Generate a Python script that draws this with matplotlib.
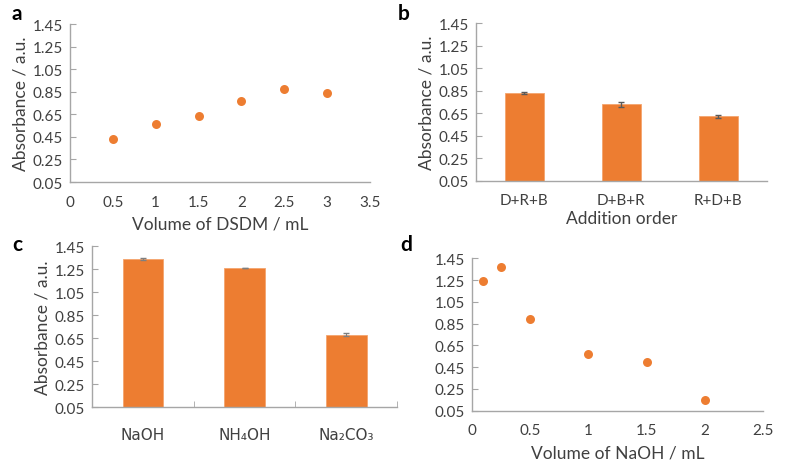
import matplotlib

matplotlib.use("Agg")
import matplotlib.pyplot as plt
import numpy as np

# panel a: absorbance vs DSDM volume
dsdm_ml = [0.5, 1.0, 1.5, 2.0, 2.5, 3.0]
dsdm_abs = [0.435, 0.568, 0.636, 0.772, 0.876, 0.843]

# panel b: addition order
order_labels = ["D+R+B", "D+B+R", "R+D+B"]
order_abs = [0.827, 0.729, 0.623]
order_err = [0.010, 0.020, 0.012]

# panel c: base type
base_labels = ["NaOH", "NH\u2084OH", "Na\u2082CO\u2083"]
base_abs = [1.340, 1.262, 0.682]
base_err = [0.010, 0.003, 0.010]

# panel d: absorbance vs NaOH volume
naoh_ml = [0.1, 0.25, 0.5, 1.0, 1.5, 2.0]
naoh_abs = [1.245, 1.373, 0.889, 0.571, 0.497, 0.151]

y_ticks = [0.05, 0.25, 0.45, 0.65, 0.85, 1.05, 1.25, 1.45]

ORANGE = "#ED7D31"
AXIS_GRAY = "#A6A6A6"
TEXT = "#404040"

plt.rcParams["font.family"] = ["Lato", "DejaVu Sans"]

fig = plt.figure(figsize=(7.89, 4.64), dpi=100)


def style_axes(ax, ylabel=True):
    for side in ("top", "right"):
        ax.spines[side].set_visible(False)
    for side in ("left", "bottom"):
        ax.spines[side].set_color(AXIS_GRAY)
        ax.spines[side].set_linewidth(1.0)
    ax.set_ylim(0.05, 1.45)
    ax.set_yticks(y_ticks)
    ax.set_yticklabels([f"{t:.2f}" for t in y_ticks])
    ax.tick_params(axis="y", direction="in", length=4, color=AXIS_GRAY,
                   labelsize=11, labelcolor=TEXT, pad=5)
    ax.tick_params(axis="x", length=0, labelsize=11, labelcolor=TEXT, pad=9)
    if ylabel:
        ax.set_ylabel("Absorbance / a.u.", fontsize=12.5, color=TEXT, labelpad=3)


# a
ax_a = fig.add_axes([0.0887, 0.6056, 0.3803, 0.3404])
style_axes(ax_a)
ax_a.scatter(dsdm_ml, dsdm_abs, s=42, color=ORANGE, zorder=3, linewidths=0)
ax_a.set_xlim(0, 3.5)
ax_a.set_xticks([0, 0.5, 1, 1.5, 2, 2.5, 3, 3.5])
ax_a.set_xticklabels(["0", "0.5", "1", "1.5", "2", "2.5", "3", "3.5"])
ax_a.set_xlabel("Volume of DSDM / mL", fontsize=12.5, color=TEXT, labelpad=5)

# b
ax_b = fig.add_axes([0.603, 0.608, 0.369, 0.340])
style_axes(ax_b)
xb = np.arange(len(order_labels))
ax_b.bar(xb, order_abs, width=0.4, color=ORANGE, edgecolor="#F4A46E", linewidth=0.6,
         bottom=0, zorder=2)
ax_b.errorbar(xb, order_abs, yerr=order_err, fmt="none", ecolor="#595959",
              elinewidth=1.0, capsize=2.5, zorder=3)
ax_b.set_xlim(-0.5, 2.5)
ax_b.set_xticks(xb)
ax_b.set_xticklabels(order_labels)
ax_b.set_xlabel("Addition order", fontsize=12.5, color=TEXT, labelpad=2)

# c
ax_c = fig.add_axes([0.1166, 0.120, 0.3866, 0.347])
style_axes(ax_c, ylabel=False)
xc = np.arange(len(base_labels))
ax_c.bar(xc, base_abs, width=0.4, color=ORANGE, edgecolor="#F4A46E", linewidth=0.6, zorder=2)
ax_c.errorbar(xc, base_abs, yerr=base_err, fmt="none", ecolor="#7f7f7f",
              elinewidth=0.8, capsize=2.5, zorder=3)
ax_c.set_xlim(-0.5, 2.5)
ax_c.set_xticks([0.5, 1.5, 2.5], minor=True)
ax_c.tick_params(axis="x", which="minor", direction="in", length=4, color=AXIS_GRAY)
ax_c.set_xticks(xc)
ax_c.set_xticklabels(base_labels, family=["Liberation Sans Narrow", "DejaVu Sans"],
                     fontsize=11)
ax_c.tick_params(axis="x", which="major", pad=14)
ax_c.set_ylabel("Absorbance / a.u.", fontsize=12.5, color=TEXT, labelpad=3)

# d
ax_d = fig.add_axes([0.598, 0.1127, 0.3696, 0.3283])
style_axes(ax_d, ylabel=False)
ax_d.scatter(naoh_ml, naoh_abs, s=42, color=ORANGE, zorder=3, linewidths=0)
ax_d.set_xlim(0, 2.5)
ax_d.set_xticks([0, 0.5, 1, 1.5, 2, 2.5])
ax_d.set_xticklabels(["0", "0.5", "1", "1.5", "2", "2.5"])
ax_d.set_xlabel("Volume of NaOH / mL", fontsize=12.5, color=TEXT, labelpad=5)

# panel letters
for letter, (px, py) in zip("abcd", [(12, 14), (398, 14), (12, 245), (400, 245)]):
    fig.text(px / 789, 1 - py / 464, letter, fontsize=15, fontweight="bold",
             color="black", ha="left", va="center")

fig.savefig("out.png", dpi=100)
